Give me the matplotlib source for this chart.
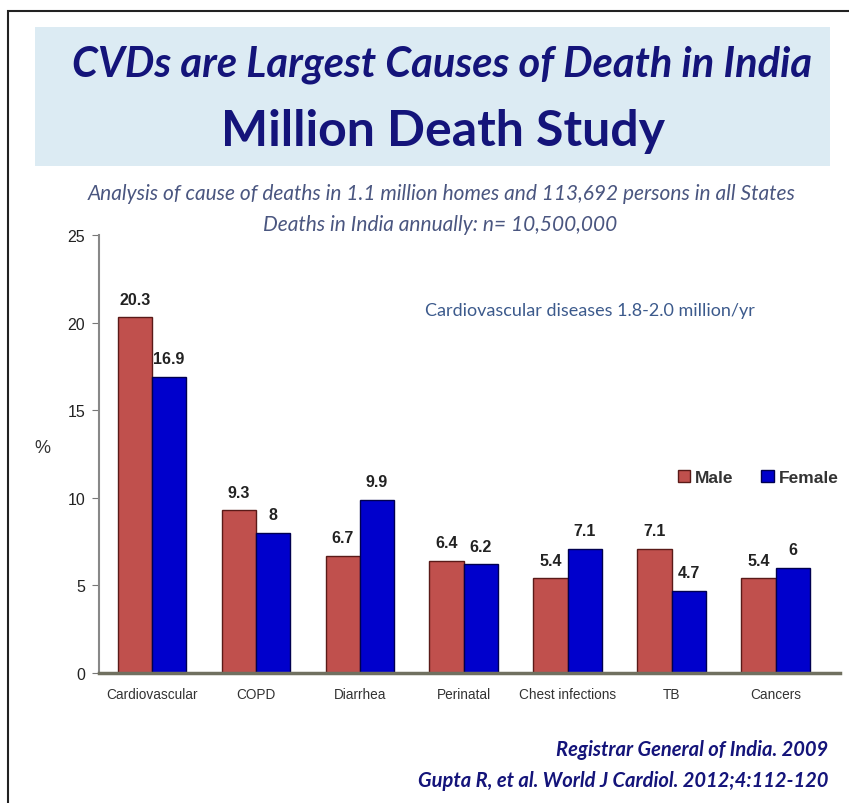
import numpy as np
import matplotlib.pyplot as plt
from matplotlib.patches import Rectangle

categories = ["Cardiovascular", "COPD", "Diarrhea", "Perinatal",
              "Chest infections", "TB", "Cancers"]
male = [20.3, 9.3, 6.7, 6.4, 5.4, 7.1, 5.4]
female = [16.9, 8, 9.9, 6.2, 7.1, 4.7, 6]
yticks = [0, 5, 10, 15, 20, 25]

W, H = 849, 804
fig = plt.figure(figsize=(W / 100, H / 100), dpi=100)
fig.patch.set_facecolor("white")

# outer frame and title box
fig.patches.append(Rectangle((8 / W, -0.1), 1.2, 1 - 12 / H + 0.1,
                             transform=fig.transFigure, fill=False,
                             edgecolor="#222222", linewidth=1.5))
fig.patches.append(Rectangle((35 / W, 1 - 167 / H), 795 / W, 139 / H,
                             transform=fig.transFigure, facecolor="#dcebf3",
                             edgecolor="none"))

navy = "#14147a"
fig.text(442 / W, 1 - 65 / H, "CVDs are Largest Causes of Death in India",
         ha="center", va="center", fontsize=30, fontweight="bold",
         style="italic", color=navy, family="Lato")
fig.text(443 / W, 1 - 132 / H, "Million Death Study", ha="center",
         va="center", fontsize=36, fontweight="bold", color=navy,
         family="Lato")

sub = "#4a5680"
fig.text(442 / W, 1 - 194 / H,
         "Analysis of cause of deaths in 1.1 million homes and 113,692 persons in all States",
         ha="center", va="center", fontsize=15, style="italic", color=sub,
         family="Lato")
fig.text(440 / W, 1 - 225 / H, "Deaths in India annually: n= 10,500,000",
         ha="center", va="center", fontsize=15, style="italic", color=sub,
         family="Lato")

ax = fig.add_axes([99 / W, 1 - 674 / H, 741 / W, 438 / H])
x = np.arange(len(categories))
bw = 0.33
ax.bar(x - bw / 2, male, bw, color="#c0504d", edgecolor="#5a1a18",
       linewidth=1.0, label="Male")
ax.bar(x + bw / 2, female, bw, color="#0000cc", edgecolor="#000050",
       linewidth=1.0, label="Female")

for i in range(len(categories)):
    ax.text(x[i] - bw / 2, male[i] + 0.6, f"{male[i]:g}", ha="center",
            va="bottom", fontsize=11.5, fontweight="bold", color="#222222",
            family="Liberation Sans")
    ax.text(x[i] + bw / 2, female[i] + 0.6, f"{female[i]:g}", ha="center",
            va="bottom", fontsize=11.5, fontweight="bold", color="#222222",
            family="Liberation Sans")

ax.set_xlim(-0.51, 6.62)
ax.set_ylim(0, 25)
ax.set_yticks(yticks)
ax.set_yticklabels([str(v) for v in yticks], fontsize=11.5,
                   family="Liberation Sans", color="#222222")
ax.set_xticks(x)
ax.set_xticklabels(categories, fontsize=9.8, family="Liberation Sans",
                   color="#333333")
ax.tick_params(axis="y", length=5, color="#777777", pad=5)
ax.tick_params(axis="x", length=0, pad=10)
for s in ["top", "right"]:
    ax.spines[s].set_visible(False)
ax.spines["left"].set_color("#888888")
ax.spines["left"].set_linewidth(1.5)
ax.spines["bottom"].set_color("#707060")
ax.spines["bottom"].set_linewidth(2.5)

fig.text(42 / W, 1 - 449 / H, "%", ha="center", va="center", fontsize=13,
         color="#333333", family="Liberation Sans")
fig.text(425 / W, 1 - 311 / H, "Cardiovascular diseases 1.8-2.0 million/yr",
         ha="left", va="center", fontsize=13, color="#3c5a8c",
         family="Lato")

leg = ax.legend(loc="upper left", bbox_to_anchor=(0.76, 0.50), ncol=2,
                frameon=False, handlelength=0.7, handleheight=0.7,
                handletextpad=0.3, columnspacing=1.6,
                prop={"family": "Liberation Sans", "weight": "bold",
                      "size": 12.5})
for t in leg.get_texts():
    t.set_color("#333333")

fig.text(828 / W, 1 - 750 / H, "Registrar General of India. 2009",
         ha="right", va="center", fontsize=14.5, fontweight="bold",
         style="italic", color=navy, family="Lato")
fig.text(828 / W, 1 - 781 / H, "Gupta R, et al. World J Cardiol. 2012;4:112-120",
         ha="right", va="center", fontsize=14.5, fontweight="bold",
         style="italic", color=navy, family="Lato")

fig.savefig("out.png", dpi=100)
